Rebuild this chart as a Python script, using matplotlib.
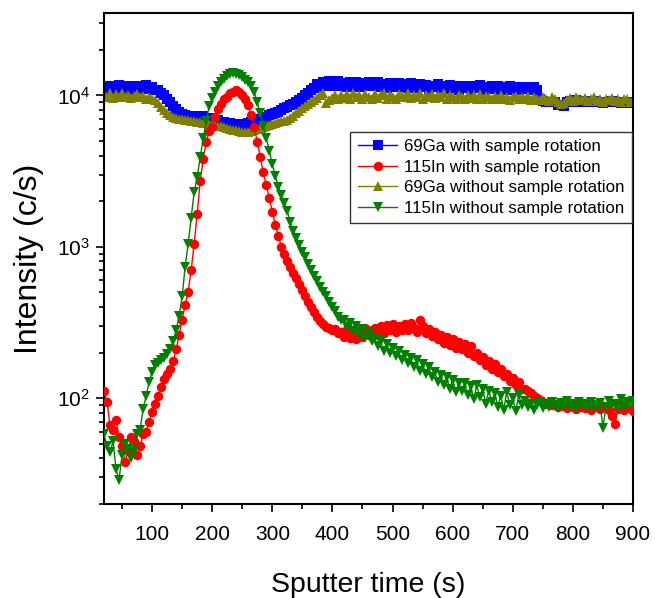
import matplotlib
matplotlib.use("Agg")
import matplotlib.pyplot as plt
import matplotlib.ticker as ticker
import numpy as np

plt.rcParams['font.family'] = ['Liberation Sans', 'DejaVu Sans']
plt.rcParams['mathtext.default'] = 'regular'

# sputter time grid (s), one reading every 5 s
time_s = np.arange(20, 901, 5)

labels = ["69Ga with sample rotation", "115In with sample rotation",
          "69Ga without sample rotation", "115In without sample rotation"]

ga_rot = [
    11300, 10900, 11600, 10800, 11400, 11700, 11000, 11500, 10900, 11400,
    11600, 11000, 11500, 11200, 11700, 11000, 11300, 10900, 10800, 10300,
    10000, 9500, 9000, 8500, 8100, 7800, 7500, 7400, 7200, 7300,
    7100, 7300, 6900, 7300, 7000, 6900, 7100, 6800, 6900, 6700,
    6700, 6500, 6600, 6300, 6500, 6200, 6400, 6500, 6600, 6700,
    6800, 6900, 7000, 7100, 7200, 7400, 7500, 7700, 7800, 8000,
    8200, 8400, 8600, 8800, 9000, 9300, 9600, 10000, 10400, 10900,
    11200, 11900, 11400, 12300, 11600, 12400, 11500, 12000, 12500, 11600,
    12100, 11400, 12300, 11600, 12200, 11300, 12000, 11500, 12300, 11700,
    11500, 12200, 11300, 11900, 11200, 12100, 11600, 11300, 12000, 11400,
    11800, 11200, 12000, 11400, 11100, 11900, 11300, 11700, 11000, 11600,
    11300, 11800, 11100, 11600, 11000, 11700, 11200, 11500, 10900, 11600,
    11200, 11600, 10900, 11500, 11100, 11700, 10900, 11400, 11000, 11500,
    11000, 11500, 10800, 11400, 11000, 11600, 10900, 11300, 10800, 11400,
    11000, 11400, 10800, 11300, 10800, 9500, 9200, 9000, 9100, 9000,
    9100, 8700, 8600, 8500, 9000, 9200, 9100, 9300, 9200, 9100,
    9200, 9000, 9100, 9200, 9000, 9100, 8900, 9100, 9000, 9200,
    9000, 9100, 8900, 9000, 9100, 8900, 9000,
]

in_rot = [
    112, 95, 66, 62, 72, 55, 48, 38, 45, 55,
    52, 42, 48, 58, 60, 70, 81, 92, 103, 118,
    133, 145, 155, 175, 210, 260, 330, 415, 506, 700,
    1050, 1650, 2700, 3800, 4900, 5800, 6200, 7200, 8100, 8800,
    9400, 9800, 10300, 10600, 10800, 10600, 10100, 9500, 8600, 7400,
    6200, 4900, 3900, 3100, 2550, 2100, 1700, 1400, 1180, 1000,
    900, 800, 730, 670, 620, 570, 520, 470, 430, 400,
    370, 345, 325, 310, 295, 290, 280, 285, 270, 275,
    255, 285, 250, 280, 245, 278, 255, 290, 262, 282,
    292, 262, 300, 270, 305, 280, 310, 275, 298, 280,
    310, 282, 315, 290, 275, 330, 300, 268, 285, 258,
    275, 245, 260, 232, 255, 225, 245, 215, 235, 210,
    228, 200, 220, 190, 200, 178, 188, 165, 175, 155,
    168, 148, 155, 140, 145, 130, 136, 122, 128, 115,
    115, 112, 108, 104, 100, 97, 95, 92, 94, 90,
    91, 88, 92, 89, 86, 90, 88, 85, 92, 87,
    86, 90, 84, 88, 92, 85, 89, 87, 84, 76,
    68, 85, 92, 84, 88, 86, 82,
]

ga_norot = [
    10100, 9700, 10300, 9600, 10200, 9800, 10300, 9700, 10100, 9600,
    9900, 10200, 9700, 9900, 9500, 9800, 9400, 9300, 8900, 8400,
    8000, 7700, 7400, 7200, 7100, 7000, 7000, 6900, 6900, 6800,
    6800, 6700, 6700, 6600, 6600, 6500, 6400, 6400, 6300, 6300,
    6200, 6100, 6000, 5900, 5900, 5800, 5700, 5700, 5700, 5800,
    5900, 6000, 6100, 6200, 6300, 6400, 6500, 6600, 6700, 6800,
    6800, 6900, 7100, 7300, 7600, 7900, 8200, 8500, 8800, 9100,
    9300, 9600, 10000, 10400, 8900, 9300, 9600, 10100, 9500, 10000,
    9600, 10200, 9500, 10300, 9700, 10100, 9400, 10200, 9800, 9500,
    10200, 9600, 10000, 10400, 9500, 10100, 9800, 9400, 10200, 9900,
    9700, 10300, 9600, 10100, 9800, 10400, 9500, 10000, 9700, 10200,
    9600, 10100, 9800, 10300, 9500, 10000, 9700, 9500, 10100, 9800,
    9500, 10000, 9600, 10100, 9500, 10200, 9400, 9900, 9800, 9500,
    9900, 9400, 10000, 9500, 9800, 9300, 9700, 9900, 9400, 9800,
    9400, 9900, 9300, 9800, 9500, 9300, 9800, 9500, 9200, 9700,
    9400, 9100, 8800, 8900, 9300, 9600, 9200, 9700, 9400, 9300,
    9600, 9200, 9500, 9700, 9200, 9500, 9100, 9500, 9300, 9600,
    9200, 9500, 9100, 9400, 9500, 9100, 9300,
]

in_norot = [
    58, 48, 44, 52, 34, 29, 42, 50, 46, 40,
    45, 58, 62, 85, 103, 128, 150, 165, 172, 178,
    185, 195, 210, 240, 280, 350, 470, 740, 1050, 1550,
    2300, 2900, 3900, 5200, 6800, 8500, 9600, 10600, 11500, 12300,
    12900, 13400, 13800, 14000, 13900, 13600, 13200, 12700, 12300, 11600,
    10500, 9000, 7600, 6300, 5200, 4300, 3500, 2950, 2500, 2200,
    1950, 1720, 1450, 1270, 1150, 1020, 930, 850, 770, 700,
    640, 590, 540, 500, 470, 430, 400, 375, 345, 330,
    330, 295, 315, 278, 300, 262, 285, 250, 270, 238,
    250, 220, 238, 205, 228, 198, 215, 190, 205, 180,
    192, 170, 185, 160, 178, 152, 168, 145, 160, 138,
    150, 128, 142, 122, 138, 115, 132, 110, 125, 112,
    125, 105, 120, 98, 122, 102, 115, 92, 112, 95,
    108, 88, 104, 84, 110, 90, 100, 82, 105, 90,
    96, 88, 92, 84, 90, 95, 86, 92, 88, 94,
    90, 86, 93, 88, 96, 89, 92, 85, 94, 90,
    92, 88, 95, 86, 90, 93, 64, 88, 96, 90,
    92, 86, 98, 88, 94, 90, 96,
]

fig = plt.figure(figsize=(6.55, 5.98), dpi=100)
ax = fig.add_axes([0.1588, 0.1572, 0.8076, 0.8211])

series = [
    (ga_rot, '#0000FF', 's', 1),
    (in_rot, '#FF0000', 'o', 3),
    (ga_norot, '#808000', '^', 2),
    (in_norot, '#008000', 'v', 4),
]
for (vals, col, mk, z), lab in zip(series, labels):
    ax.plot(time_s, vals, color=col, marker=mk, markersize=6.8, lw=1,
            markeredgewidth=0, label=lab, zorder=z)

ax.set_yscale('log')
ax.set_xlim(20, 900)
ax.set_ylim(20, 35000)

ax.xaxis.set_major_locator(ticker.MultipleLocator(100))
ax.xaxis.set_minor_locator(ticker.MultipleLocator(50))
ax.yaxis.set_major_locator(ticker.LogLocator(base=10))
ax.yaxis.set_minor_locator(ticker.LogLocator(base=10, subs=np.arange(2, 10)))
ax.yaxis.set_minor_formatter(ticker.NullFormatter())

ax.tick_params(which='both', direction='out', top=False, right=False,
               width=1.2, labelsize=15)
ax.tick_params(axis='x', which='major', length=6, pad=9)
ax.tick_params(axis='y', which='major', length=6, pad=4)
ax.tick_params(which='minor', length=3.5)
for sp in ax.spines.values():
    sp.set_linewidth(1.5)

ax.set_xlabel("Sputter time (s)", fontsize=20.5, labelpad=20)
ax.set_ylabel("Intensity (c/s)", fontsize=23, labelpad=9)

leg = ax.legend(loc='upper right', bbox_to_anchor=(0.998, 0.758),
                fontsize=12.2, fancybox=False, framealpha=1, edgecolor='#333333',
                handlelength=2.3, labelspacing=0.32, borderpad=0.45,
                handletextpad=0.4, borderaxespad=0)
leg.get_frame().set_linewidth(1)

fig.savefig("out.png", dpi=100)
